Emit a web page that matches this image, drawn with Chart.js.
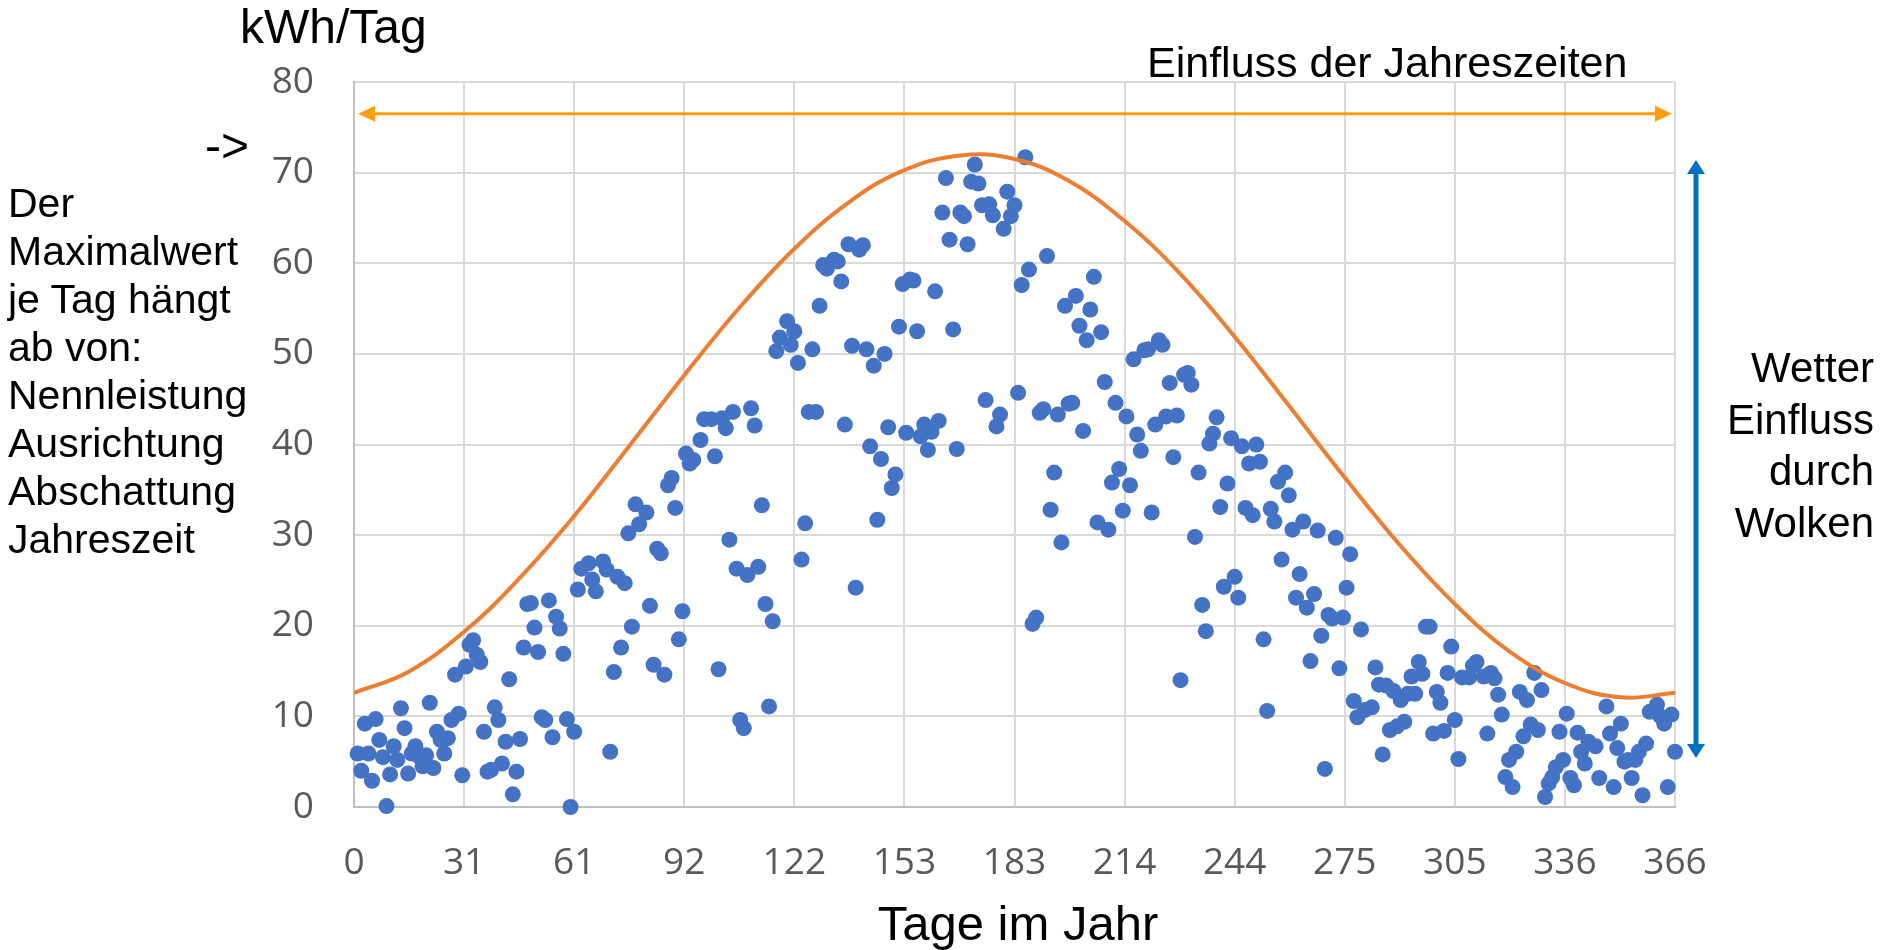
<!DOCTYPE html>
<html>
<head>
<meta charset="utf-8">
<script src="https://cdn.jsdelivr.net/npm/chart.js@4.4.1/dist/chart.umd.min.js"></script>
<style>
html,body{margin:0;padding:0;background:#fff;}
#wrap{position:relative;width:1881px;height:950px;overflow:hidden;background:#fff;}
#c{position:absolute;left:0;top:0;}
.t{position:absolute;white-space:nowrap;font-family:"Liberation Sans",Arial,sans-serif;color:#000;}
</style>
</head>
<body>
<div id="wrap">
<canvas id="c" width="1881" height="950"></canvas>
<div class="t" style="left:240px;top:3px;font-size:48px;line-height:48px;">kWh/Tag</div>
<div class="t" style="left:205px;top:122px;font-size:48px;line-height:48px;">-&gt;</div>
<div class="t" style="left:8px;top:179px;font-size:41px;line-height:48px;">Der<br>Maximalwert<br>je Tag hängt<br>ab von:<br>Nennleistung<br>Ausrichtung<br>Abschattung<br>Jahreszeit</div>
<div class="t" style="left:1147px;top:41px;font-size:43px;line-height:43px;">Einfluss der Jahreszeiten</div>
<div class="t" style="right:7px;top:342px;font-size:42px;line-height:51.5px;text-align:right;">Wetter<br>Einfluss<br>durch<br>Wolken</div>
<div class="t" style="left:1018px;top:899px;font-size:49px;line-height:49px;transform:translateX(-50%);">Tage im Jahr</div>
</div>
<script>
// ---- data ----
const dayValues = [
  1,2,3,4,5,6,7,8,9,10,11,12,13,14,15,16,17,18,19,20,21,22,23,24,25,26,27,28,29,30,
  31,32,33,34,35,36,37,38,39,40,41,42,43,44,45,46,47,48,49,50,51,52,53,54,55,56,57,58,59,60,
  61,62,63,65,66,67,69,70,71,72,73,74,75,76,77,78,79,81,82,83,84,85,86,87,88,89,90,
  91,92,93,94,96,97,99,100,101,102,103,104,105,106,107,108,109,110,111,112,113,114,115,116,117,118,120,
  121,122,123,124,125,126,127,128,129,130,131,133,134,135,136,137,138,139,140,141,142,143,144,145,146,147,148,149,150,
  151,152,153,154,155,156,157,158,159,160,161,162,163,164,165,166,167,168,169,170,171,172,173,174,175,176,177,178,179,180,
  181,182,183,184,185,186,187,188,189,190,191,192,193,194,195,196,197,198,199,200,201,202,203,204,205,206,207,208,209,210,
  211,212,213,214,215,216,217,218,219,220,221,222,223,224,225,226,227,228,229,230,231,232,233,234,235,236,237,238,239,240,
  241,242,243,244,245,246,247,248,249,250,251,252,253,254,255,256,257,258,259,260,261,262,263,264,265,266,267,268,269,270,
  271,272,273,274,275,276,277,278,279,280,282,283,284,285,286,287,288,289,290,291,292,293,294,295,296,297,298,299,300,
  301,302,303,304,305,306,307,309,310,311,313,314,315,316,317,318,319,320,321,322,323,324,325,326,327,328,329,330,
  331,332,333,334,335,336,337,338,339,340,341,342,344,345,347,348,349,350,351,352,353,354,355,356,357,358,359,361,362,363,364,365,366
];
const kwhValues = [
  5.9,4.0,9.2,5.9,2.9,9.7,7.4,5.5,0.1,3.6,6.7,5.2,10.9,8.7,3.7,5.9,6.7,5.6,4.5,5.7,11.5,4.3,8.3,7.4,5.9,7.6,9.6,14.6,10.3,3.5,
  15.5,17.9,18.4,16.8,16.0,8.3,3.9,4.1,11.0,9.6,4.8,7.2,14.1,1.4,3.9,7.5,17.6,22.4,22.5,19.8,17.1,9.9,9.6,22.8,7.7,21.0,19.7,16.9,9.7,0.0,
  8.3,24.0,26.3,26.9,25.1,23.8,27.1,26.2,6.1,14.9,25.4,17.6,24.7,30.2,19.9,33.4,31.2,32.5,22.2,15.7,28.5,28.0,14.6,35.5,36.3,33.0,18.5,
  21.6,39.0,37.9,38.3,40.5,42.8,42.8,38.7,15.2,42.9,41.8,29.5,43.6,26.3,9.6,8.7,25.6,44.0,42.1,26.5,33.3,22.4,11.1,20.5,50.3,51.8,53.6,
  51.0,52.5,49.0,27.3,31.3,43.6,50.5,43.6,55.3,59.8,59.4,60.4,60.2,58.0,42.2,62.1,50.9,24.2,61.5,62.0,50.5,39.8,48.7,31.7,38.4,50.0,41.9,35.2,36.7,
  53.0,57.7,41.3,58.2,58.1,52.5,40.9,42.2,39.4,41.4,56.9,42.6,65.6,69.4,62.6,52.7,39.5,65.6,65.2,62.1,69.0,70.9,68.8,66.4,44.9,66.5,65.3,42.0,43.3,63.8,
  67.9,65.2,66.4,45.7,57.6,71.7,59.3,20.2,20.9,43.5,43.9,60.8,32.8,36.9,43.3,29.2,55.3,44.5,44.6,56.4,53.1,41.5,51.5,54.9,58.5,31.4,52.4,46.9,30.6,35.8,
  44.6,37.3,32.7,43.1,35.5,49.4,41.1,39.3,50.4,50.5,32.5,42.2,51.5,51.0,43.1,46.8,38.6,43.2,14.0,47.7,47.9,46.6,29.8,36.9,22.3,19.4,40.1,41.2,43.0,33.1,
  24.3,35.7,40.7,25.4,23.1,39.8,33.0,37.9,32.2,40.0,38.1,18.5,10.6,32.9,31.5,35.9,27.3,36.9,34.4,30.6,23.1,25.7,31.5,22.0,16.1,23.5,30.5,18.9,4.2,21.2,
  20.8,29.7,15.3,20.9,24.2,27.9,11.7,9.9,19.6,10.7,11.0,15.4,13.5,5.8,13.4,8.5,12.8,8.9,11.8,9.4,12.5,14.4,12.5,16.0,14.7,19.9,19.9,8.1,12.7,
  11.5,8.4,14.8,17.7,9.6,5.3,14.3,14.3,15.6,16.0,14.4,8.1,14.8,14.2,12.4,10.2,3.3,5.2,2.2,6.1,12.7,7.8,11.8,9.1,14.8,8.5,12.9,1.1,
  2.6,3.3,4.4,8.3,5.2,10.3,3.2,2.4,8.2,6.1,4.8,7.2,6.7,3.2,11.1,8.1,2.2,6.5,9.2,5.0,5.2,3.2,5.2,6.1,1.3,7.0,10.5,11.3,10.0,9.2,2.2,10.2,6.1
];
// seasonal maximum curve (read at these days)
const envelopeDays   = [0,15,31,46,61,76,92,107,122,137,152,168,183,198,214,229,244,259,275,290,305,320,336,351,366];
const envelopeValues = [12.6,14.9,19.5,25.3,32.1,39.7,47.9,55.2,61.6,66.7,70.2,71.9,71.5,69.1,64.5,58.8,51.9,44.3,36.1,28.8,22.4,17.2,13.6,12.1,12.6];
// axis ticks
const xTickValues = [0,30.5,61,91.5,122,152.5,183,213.5,244,274.5,305,335.5,366];
const xTickLabels = ['0','31','61','92','122','153','183','214','244','275','305','336','366'];
const yTickValues = [0,10,20,30,40,50,60,70,80];
// annotation arrows (in data units)
const seasonArrowY = 76.5;
const weatherArrowTop = 71.4;
const weatherArrowBottom = 5.4;

function drawDoubleArrow(ctx, x1, y1, x2, y2, color, lw, headLen, headHalf) {
  const ang = Math.atan2(y2 - y1, x2 - x1);
  const c = Math.cos(ang), s = Math.sin(ang);
  ctx.save();
  ctx.strokeStyle = color; ctx.fillStyle = color; ctx.lineWidth = lw; ctx.lineCap = 'butt';
  ctx.beginPath();
  ctx.moveTo(x1 + c * headLen * 0.8, y1 + s * headLen * 0.8);
  ctx.lineTo(x2 - c * headLen * 0.8, y2 - s * headLen * 0.8);
  ctx.stroke();
  function head(px, py, dir) {
    const bx = px - dir * c * headLen, by = py - dir * s * headLen;
    ctx.beginPath();
    ctx.moveTo(px, py);
    ctx.lineTo(bx - s * headHalf, by + c * headHalf);
    ctx.lineTo(bx + s * headHalf, by - c * headHalf);
    ctx.closePath();
    ctx.fill();
  }
  head(x2, y2, 1);
  head(x1, y1, -1);
  ctx.restore();
}

const arrowPlugin = {
  id: 'arrows',
  afterDatasetsDraw(chart) {
    const {ctx, scales: {x, y}, chartArea} = chart;
    const ay = y.getPixelForValue(seasonArrowY);
    drawDoubleArrow(ctx, x.getPixelForValue(0) + 4, ay, x.getPixelForValue(366) - 3, ay, '#FF9D0A', 3, 17, 8);
    const bx = chartArea.right + 21;
    drawDoubleArrow(ctx, bx, y.getPixelForValue(weatherArrowTop), bx, y.getPixelForValue(weatherArrowBottom), '#0070C0', 5, 14, 9);
  }
};

const tickFont = {family: 'Open Sans', size: 37};
new Chart(document.getElementById('c'), {
  type: 'scatter',
  data: {
    datasets: [
      {
        type: 'line',
        data: envelopeDays.map((d, i) => ({x: d, y: envelopeValues[i]})),
        borderColor: '#ED7D31',
        borderWidth: 4,
        pointRadius: 0,
        fill: false,
        tension: 0.4
      },
      {
        type: 'scatter',
        data: dayValues.map((d, i) => ({x: d, y: kwhValues[i]})),
        backgroundColor: '#4472C4',
        borderColor: '#4472C4',
        borderWidth: 0,
        pointRadius: 8,
        clip: false
      }
    ]
  },
  options: {
    responsive: false,
    devicePixelRatio: 1,
    animation: false,
    events: [],
    layout: {padding: {left: 0, right: 206, top: 82, bottom: 0}},
    plugins: {legend: {display: false}, tooltip: {enabled: false}, title: {display: false}},
    scales: {
      x: {
        type: 'linear', min: 0, max: 366,
        afterBuildTicks: s => { s.ticks = xTickValues.map(v => ({value: v})); },
        afterFit: s => { s.height = 143; },
        ticks: {autoSkip: false, maxRotation: 0, minRotation: 0, padding: 34, color: '#595959', font: tickFont,
                callback: (v, i) => xTickLabels[i]},
        grid: {color: '#D9D9D9', lineWidth: 2, drawTicks: false},
        border: {color: '#BFBFBF', width: 2}
      },
      y: {
        min: 0, max: 80,
        afterBuildTicks: s => { s.ticks = yTickValues.map(v => ({value: v})); },
        afterFit: s => { s.width = 354; },
        ticks: {padding: 40, color: '#595959', font: tickFont, callback: v => String(v)},
        grid: {color: '#D9D9D9', lineWidth: 2, drawTicks: false},
        border: {color: '#BFBFBF', width: 2}
      }
    }
  },
  plugins: [arrowPlugin]
});
</script>
</body>
</html>
